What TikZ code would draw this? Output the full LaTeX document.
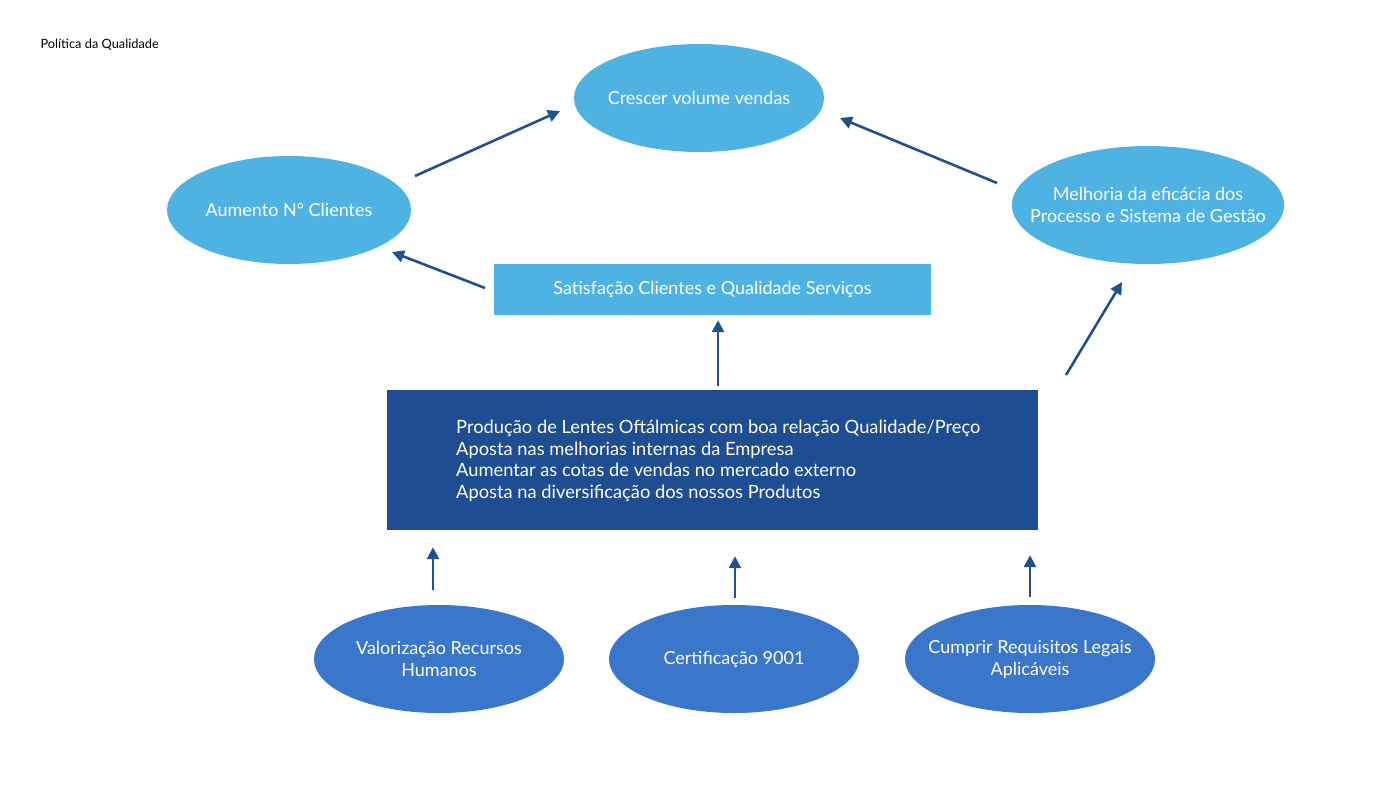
\documentclass[tikz,border=0pt]{standalone}
\usepackage{fontspec}
\setmainfont{Lato}
\usepackage{tikz}
\usetikzlibrary{arrows.meta,shapes.geometric}
\definecolor{ellclaro}{HTML}{4EB3E3}
\definecolor{ellmedio}{HTML}{3A76C9}
\definecolor{caixaesc}{HTML}{1F4D92}
\definecolor{setacor}{HTML}{21508F}
\tikzset{
  elc/.style={ellipse,fill=ellclaro,text=white,inner xsep=-30pt,inner ysep=0pt,minimum width=250pt,minimum height=108pt,
    align=center,font=\fontsize{18}{22}\selectfont},
  elm/.style={elc,fill=ellmedio},
  caixa/.style={rectangle,fill=ellclaro,text=white,inner sep=0pt,font=\fontsize{18}{22}\selectfont},
  caixaobj/.style={rectangle,fill=caixaesc,text=white,inner sep=0pt,minimum width=651pt,minimum height=140pt},
  seta/.style={-{Triangle[length=12pt,width=12pt]},setacor,line width=2.6pt},
}
\begin{document}
\begin{tikzpicture}[x=1pt,y=-1pt]
  \useasboundingbox[fill=white] (0,0) rectangle (1400,788);
  \node[anchor=west,font=\fontsize{12.8}{15}\selectfont] (titulo) at (37,45) {Política da Qualidade};
  % topo
  \node[elc] (cres) at (699,98) {Crescer volume vendas};
  \node[elc,minimum width=244pt] (aum) at (289,210) {Aumento Nº Clientes};
  \node[elc,minimum width=272pt,minimum height=118pt] (melh) at (1148,205) {Melhoria da eficácia dos\\Processo e Sistema de Gestão};
  \node[caixa,minimum width=437pt,minimum height=51pt] (sat) at (712.5,289.5) {Satisfação Clientes e Qualidade Serviços};
  % objetivos
  \node[caixaobj] (prod) at (712.5,460) {};
  \node[anchor=west,text=white,align=left,inner sep=0pt,font=\fontsize{18.3}{21.7}\selectfont]
    (prodtxt) at (456,461) {Produção de Lentes Oftálmicas com boa relação Qualidade/Preço\\
    Aposta nas melhorias internas da Empresa\\
    Aumentar as cotas de vendas no mercado externo\\
    Aposta na diversificação dos nossos Produtos};
  % base
  \node[elm] (vrh) at (439,659) {Valorização Recursos\\Humanos};
  \node[elm] (cert) at (734,659) {Certificação 9001};
  \node[elm] (lega) at (1030,659) {Cumprir Requisitos Legais\\Aplicáveis};
  % pontas das setas
  \coordinate (s1a) at (415,176); \coordinate (s1b) at (560,111);
  \coordinate (s2a) at (997,183); \coordinate (s2b) at (840,118);
  \coordinate (s3a) at (485,288); \coordinate (s3b) at (392,252);
  \coordinate (s4a) at (1066,375); \coordinate (s4b) at (1122,282);
  \draw[seta] (s1a) -- (s1b);
  \draw[seta] (s2a) -- (s2b);
  \draw[seta] (s3a) -- (s3b);
  \draw[seta] (s4a) -- (s4b);
  \draw[seta,shorten <=4pt,shorten >=5pt] ([xshift=5.5pt]prod.north) -- ([xshift=5.5pt]prod.north |- sat.south);
  \draw[seta,shorten <=15pt,shorten >=17pt] ([xshift=-6pt]vrh.north) -- ([xshift=-6pt]vrh.north |- prod.south);
  \draw[seta,shorten <=7pt,shorten >=26pt] ([xshift=1pt]cert.north) -- ([xshift=1pt]cert.north |- prod.south);
  \draw[seta,shorten <=8pt,shorten >=25pt] (lega.north) -- (lega.north |- prod.south);
\end{tikzpicture}
\end{document}
